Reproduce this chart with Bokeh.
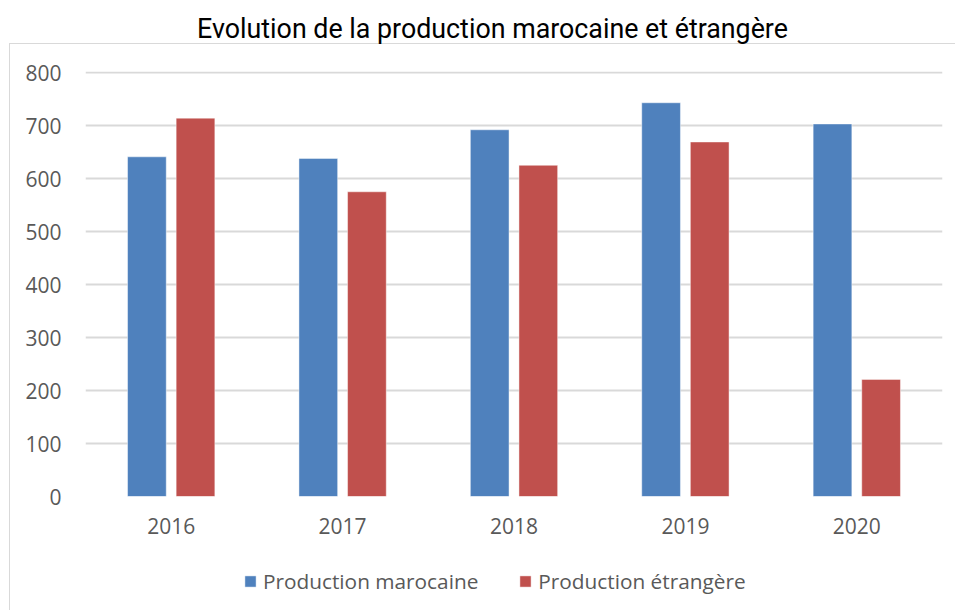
from bokeh.plotting import figure
from bokeh.layouts import column
from bokeh.models import (ColumnDataSource, FactorRange, Range1d, FixedTicker,
                          Legend, LegendItem, Label)
from bokeh.transform import dodge
from bokeh.embed import file_html
from bokeh.resources import INLINE

# ---- data ----
years = ["2016", "2017", "2018", "2019", "2020"]
marocaine = [641, 638, 692, 743, 703]
etrangere = [714, 575, 625, 669, 221]
y_ticks = [0, 100, 200, 300, 400, 500, 600, 700, 800]
series_names = ["Production marocaine", "Production étrangère"]
title_text = "Evolution de la production marocaine et étrangère"

BLUE = "#4F81BD"
RED = "#C0504D"
GRID = "#d9d9d9"
TXT = "#595959"

W = 955
H_TITLE, H_MAIN, H_LEG = 50, 500, 60
FRAME_LEFT, FRAME_RIGHT_PAD = 85, 13


def bare(fig):
    fig.outline_line_color = None
    fig.background_fill_color = None
    fig.border_fill_color = None
    fig.title.visible = False
    return fig


src = ColumnDataSource(dict(years=years, marocaine=marocaine, etrangere=etrangere))

# ---------- title strip ----------
tf = bare(figure(width=W, height=H_TITLE, output_backend="svg", toolbar_location=None,
                 x_axis_type=None, y_axis_type=None,
                 min_border_left=FRAME_LEFT, min_border_right=FRAME_RIGHT_PAD,
                 min_border_top=0, min_border_bottom=0,
                 x_range=Range1d(0, 1), y_range=Range1d(0, 1)))
tf.xgrid.visible = False
tf.ygrid.visible = False
tf.add_layout(Label(x=492 - FRAME_LEFT, y=22, x_units="screen", y_units="screen",
                    text=title_text, text_align="center", text_baseline="alphabetic",
                    text_font="Roboto", text_font_size="26.8px", text_color="#000000"))

# ---------- main chart ----------
p = bare(figure(x_range=FactorRange(*years, range_padding=0, factor_padding=0),
                y_range=Range1d(0, 802),
                width=W, height=H_MAIN, output_backend="svg", toolbar_location=None,
                min_border_left=FRAME_LEFT, min_border_right=FRAME_RIGHT_PAD,
                min_border_top=21, min_border_bottom=54))

r1 = p.vbar(x=dodge("years", -0.1418, range=p.x_range), top="marocaine", width=0.2258,
            source=src, fill_color=BLUE, line_color="white", line_alpha=0.45, line_width=1)
r2 = p.vbar(x=dodge("years", 0.1418, range=p.x_range), top="etrangere", width=0.2258,
            source=src, fill_color=RED, line_color="white", line_alpha=0.45, line_width=1)

p.yaxis.ticker = FixedTicker(ticks=y_ticks)
for ax in (p.xaxis, p.yaxis):
    ax.axis_line_color = None
    ax.major_tick_line_color = None
    ax.minor_tick_line_color = None
    ax.major_tick_out = 0
    ax.major_tick_in = 0
    ax.major_label_text_font = "Open Sans"
    ax.major_label_text_font_size = "21px"
    ax.major_label_text_color = TXT
p.yaxis.major_label_standoff = 24
p.xaxis.major_label_standoff = 21

p.xgrid.grid_line_color = None
p.ygrid.grid_line_color = GRID
p.ygrid.grid_line_width = 1.8

# ---------- legend strip ----------
lf = bare(figure(width=W, height=H_LEG, output_backend="svg", toolbar_location=None,
                 x_axis_type=None, y_axis_type=None,
                 min_border_left=FRAME_LEFT, min_border_right=FRAME_RIGHT_PAD,
                 min_border_top=0, min_border_bottom=0,
                 x_range=Range1d(0, 1), y_range=Range1d(0, 1)))
lf.xgrid.visible = False
lf.ygrid.visible = False
# legend keys: same series, renderers hidden (only their legend swatches are shown)
k1 = lf.vbar(x="marocaine", top="marocaine", width=0.1, source=src,
             fill_color=BLUE, line_color="white", line_alpha=0.45, visible=False)
k2 = lf.vbar(x="etrangere", top="etrangere", width=0.1, source=src,
             fill_color=RED, line_color="white", line_alpha=0.45, visible=False)
legend = Legend(items=[LegendItem(label=series_names[0], renderers=[k1]),
                       LegendItem(label=series_names[1], renderers=[k2])],
                orientation="horizontal", location=(243 - FRAME_LEFT, 15),
                padding=0, margin=0, spacing=40,
                glyph_width=14, glyph_height=14, label_standoff=6,
                label_text_font="Open Sans", label_text_font_size="20.8px",
                label_text_color=TXT, border_line_color=None,
                background_fill_alpha=0,
                inactive_fill_alpha=0)
lf.add_layout(legend)

chart_border = {
    "background-image": "linear-gradient(#d9d9d9,#d9d9d9), linear-gradient(#d9d9d9,#d9d9d9)",
    "background-size": "1px 580px, 960px 1px",
    "background-position": "9px 43px, 9px 43px",
    "background-repeat": "no-repeat",
}
page = column(tf, p, lf, spacing=0, styles=chart_border)

open("out.html", "w").write(file_html(page, INLINE))
